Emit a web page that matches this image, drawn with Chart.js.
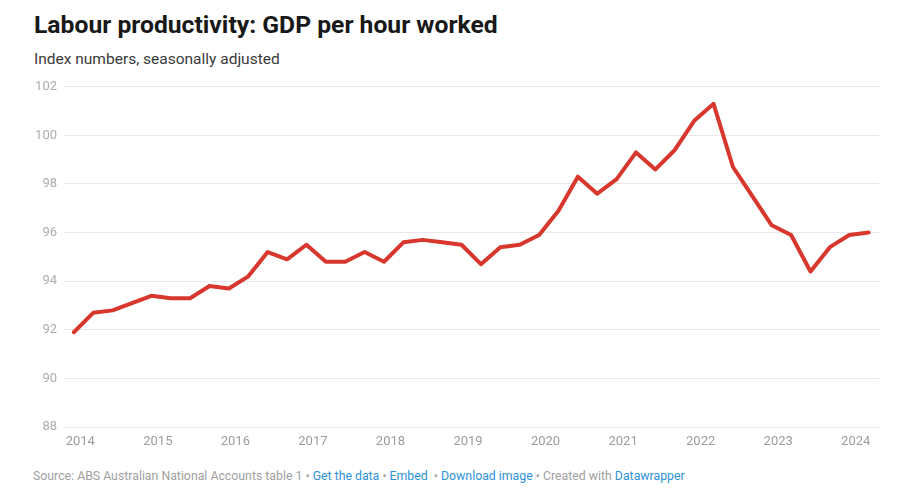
<!DOCTYPE html>
<html><head>
<meta charset="UTF-8">
<title>Labour productivity: GDP per hour worked</title>
<script src="https://cdn.jsdelivr.net/npm/chart.js"></script>
<style>
    html, body {
        margin: 0;
        padding: 0;
        background: #fff;
        overflow: hidden;
        width: 922px;
        height: 488px;
        font-family: Roboto, 'Noto Sans', sans-serif;
    }
    h1 {
        position: absolute;
        left: 34px;
        top: 12px;
        margin: 0;
        font-size: 24.7px;
        line-height: 25px;
        font-weight: 700;
        color: #181818;
        white-space: nowrap;
    }
    .sub {
        position: absolute;
        left: 34px;
        top: 52px;
        font-size: 15.5px;
        line-height: 15px;
        color: #3a3a3a;
        white-space: nowrap;
    }
    #chart {
        position: absolute;
        left: 0;
        top: 72px;
    }
    .foot {
        position: absolute;
        left: 33px;
        top: 470px;
        font-size: 12.3px;
        line-height: 13px;
        color: #a0a0a0;
        white-space: nowrap;
    }
    .foot a {
        color: #2d93d6;
        text-decoration: none;
    }
</style>
</head>
<body>
    <h1>Labour productivity: GDP per hour worked</h1>
    <div class="sub">Index numbers, seasonally adjusted</div>
    <canvas id="chart" width="922" height="387"></canvas>
    <div class="foot">Source: ABS Australian National Accounts table 1 • <a>Get the data</a> • <a>Embed</a> &nbsp;• <a>Download image</a> • Created with <a>Datawrapper</a></div>

<script>
    // quarters (end month), Dec 2013 .. Mar 2024
    const quarters = [
        "2013-12", "2014-03", "2014-06", "2014-09", "2014-12",
        "2015-03", "2015-06", "2015-09", "2015-12",
        "2016-03", "2016-06", "2016-09", "2016-12",
        "2017-03", "2017-06", "2017-09", "2017-12",
        "2018-03", "2018-06", "2018-09", "2018-12",
        "2019-03", "2019-06", "2019-09", "2019-12",
        "2020-03", "2020-06", "2020-09", "2020-12",
        "2021-03", "2021-06", "2021-09", "2021-12",
        "2022-03", "2022-06", "2022-09", "2022-12",
        "2023-03", "2023-06", "2023-09", "2023-12",
        "2024-03"
    ];

    // GDP per hour worked, index
    const productivity = [
        91.9, 92.7, 92.8, 93.1, 93.4,
        93.3, 93.3, 93.8, 93.7,
        94.2, 95.2, 94.9, 95.5,
        94.8, 94.8, 95.2, 94.8,
        95.6, 95.7, 95.6, 95.5,
        94.7, 95.4, 95.5, 95.9,
        96.9, 98.3, 97.6, 98.2,
        99.3, 98.6, 99.4, 100.6,
        101.3, 98.7, 97.5, 96.3,
        95.9, 94.4, 95.4, 95.9,
        96.0
    ];

    const yearTicks = [2014, 2015, 2016, 2017, 2018, 2019, 2020, 2021, 2022, 2023, 2024];
    const yTicks = [88, 90, 92, 94, 96, 98, 100, 102];

    // month "yyyy-mm" -> decimal year, plotted at the start of the month
    function toYear(q) {
        const [y, m] = q.split("-").map(Number);
        return y + (m - 1) / 12;
    }

    const points = quarters.map((q, i) => ({ x: toYear(q), y: productivity[i] }));

    const ctx = document.getElementById('chart').getContext('2d');
    new Chart(ctx, {
        type: 'line',
        data: {
            datasets: [{
                label: 'GDP per hour worked',
                data: points,
                borderColor: '#d7372c',
                borderWidth: 4,
                borderJoinStyle: 'round',
                borderCapStyle: 'round',
                pointRadius: 0,
                tension: 0,
                fill: false
            }]
        },
        options: {
            responsive: false,
            animation: false,
            events: [],
            layout: {
                padding: { left: 0, right: 43, top: 12, bottom: 0 }
            },
            plugins: {
                legend: { display: false },
                tooltip: { enabled: false }
            },
            scales: {
                x: {
                    type: 'linear',
                    min: 2013.79,
                    max: 2024.3,
                    afterFit: s => { s.height = 32; },
                    afterBuildTicks: s => { s.ticks = yearTicks.map(v => ({ value: v })); },
                    grid: { display: false, drawTicks: false },
                    border: { display: false },
                    ticks: {
                        padding: 7,
                        autoSkip: false,
                        maxRotation: 0,
                        color: '#9c9c9c',
                        font: { family: 'Roboto', size: 13 },
                        callback: v => String(v)
                    }
                },
                y: {
                    min: 88,
                    max: 102,
                    afterFit: s => { s.width = 64; },
                    afterBuildTicks: s => { s.ticks = yTicks.map(v => ({ value: v })); },
                    grid: { color: '#e8e8e8', lineWidth: 1, drawTicks: false },
                    border: { display: false },
                    ticks: {
                        padding: 7,
                        color: '#adadad',
                        font: { family: 'Roboto', size: 13 },
                        callback: v => String(v)
                    }
                }
            }
        }
    });
</script>
</body></html>
